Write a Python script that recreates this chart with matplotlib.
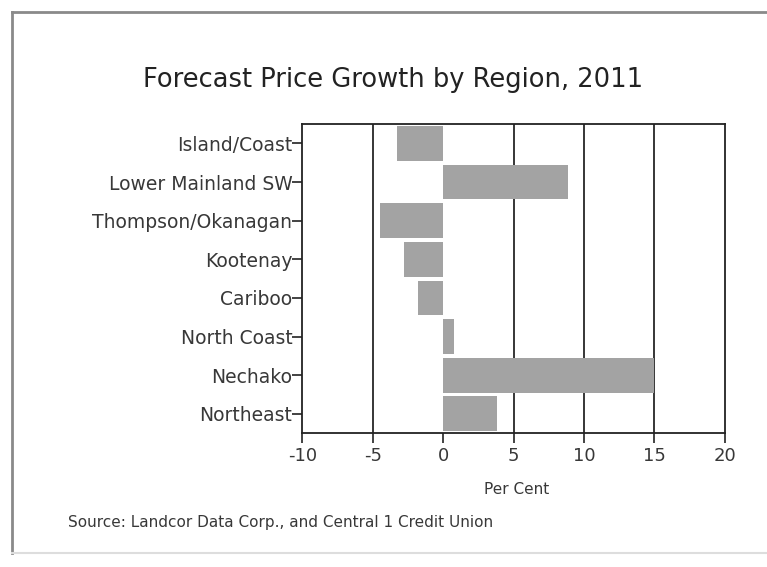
import matplotlib.pyplot as plt
from matplotlib.lines import Line2D

regions = ["Island/Coast", "Lower Mainland SW", "Thompson/Okanagan", "Kootenay",
           "Cariboo", "North Coast", "Nechako", "Northeast"]
growth = [-3.3, 8.9, -4.5, -2.8, -1.8, 0.8, 15.0, 3.8]
xticks = [-10, -5, 0, 5, 10, 15, 20]
gridlines = [-5, 5, 10, 15]

plt.rcParams['font.family'] = ['DejaVu Sans']

fig = plt.figure(figsize=(7.67, 5.67), dpi=100)
ax = fig.add_axes([0.394, 0.236, 0.551, 0.545])

ypos = list(range(len(regions)))
ax.barh(ypos, growth, height=0.9, color="#a3a3a3", zorder=2)
for g in gridlines:
    ax.axvline(g, color="black", lw=1.1, zorder=1)

ax.set_xlim(-10, 20)
ax.set_ylim(len(regions) - 0.5, -0.5)
ax.set_xticks(xticks)
ax.set_xticklabels([str(t) for t in xticks], fontsize=13, color="#383838")
ax.set_yticks(ypos)
ax.set_yticklabels(regions, fontsize=13.5, color="#383838")
ax.tick_params(axis="both", direction="out", length=7, width=1.2, color="#222222")
ax.tick_params(axis="y", pad=0)
ax.tick_params(axis="x", pad=3)
for s in ax.spines.values():
    s.set_linewidth(1.3)
    s.set_color("#222222")

fig.text(0.674, 0.137, "Per Cent", ha="center", va="center",
         fontsize=11, color="#383838")
fig.text(0.512, 0.847, "Forecast Price Growth by Region, 2011", ha="center",
         fontsize=18.5, color="#222222")
fig.text(0.089, 0.078, "Source: Landcor Data Corp., and Central 1 Credit Union",
         fontsize=11, color="#383838", va="center")

# frame around the chart
fig.add_artist(Line2D([0.016, 1.0], [0.979, 0.979], transform=fig.transFigure,
                      color="#8a8a8a", lw=2))
fig.add_artist(Line2D([0.016, 0.016], [0.979, 0.025], transform=fig.transFigure,
                      color="#8a8a8a", lw=2))
fig.add_artist(Line2D([0.016, 1.0], [0.025, 0.025], transform=fig.transFigure,
                      color="#dddddd", lw=1.5))

fig.savefig("out.png", dpi=100, facecolor="white")
